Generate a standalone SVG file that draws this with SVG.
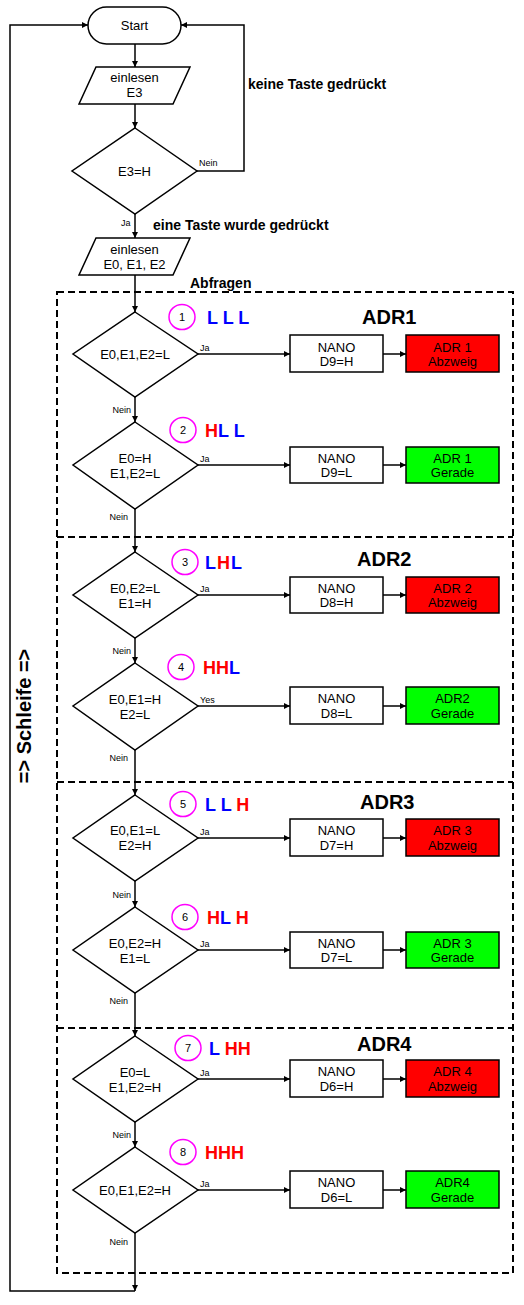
<svg xmlns="http://www.w3.org/2000/svg" width="524" height="1305" viewBox="0 0 524 1305">
<style>
text{font-family:"Liberation Sans",Arial,sans-serif;fill:#000}
.s{fill:#fff;stroke:#000;stroke-width:1.5}
.red{fill:#ff0000;stroke:#000;stroke-width:1.5}
.grn{fill:#00ff00;stroke:#000;stroke-width:1.5}
.c{fill:none;stroke:#000;stroke-width:1.5}
.dash{fill:none;stroke:#000;stroke-width:2;stroke-dasharray:7,4}
.circ{fill:#fff;stroke:#ff00ff;stroke-width:1.5}
.t{font-size:13px;text-anchor:middle}
.sm{font-size:9px}
.b{font-size:14px;font-weight:bold}
.adr{font-size:20px;font-weight:bold}
.lv{font-size:18px;font-weight:bold}
.n{font-size:11px;text-anchor:middle}
.B{fill:#0000ff}.R{fill:#ff0000}
</style>
<defs>
<marker id="a" markerWidth="6" markerHeight="6" refX="6" refY="3" orient="auto" markerUnits="userSpaceOnUse"><path d="M0,0 L6,3 L0,6 z" fill="#000"/></marker>
</defs>

<g id="frames">
<rect class="dash" x="57" y="292" width="456" height="981"/>
<line class="dash" x1="57" y1="537" x2="513" y2="537"/>
<line class="dash" x1="57" y1="782" x2="513" y2="782"/>
<line class="dash" x1="57" y1="1028" x2="513" y2="1028"/>
</g>

<g id="connectors">
<line class="c" x1="135" y1="44" x2="135" y2="67" marker-end="url(#a)"/>
<line class="c" x1="135" y1="104" x2="135" y2="128" marker-end="url(#a)"/>
<polyline class="c" points="197,171 244,171 244,25 181,25" marker-end="url(#a)"/>
<line class="c" x1="135" y1="214" x2="135" y2="238" marker-end="url(#a)"/>
<line class="c" x1="135" y1="275" x2="135" y2="312" marker-end="url(#a)"/>
<line class="c" x1="135" y1="397" x2="135" y2="422" marker-end="url(#a)"/>
<line class="c" x1="135" y1="509" x2="135" y2="552" marker-end="url(#a)"/>
<line class="c" x1="135" y1="638" x2="135" y2="663" marker-end="url(#a)"/>
<line class="c" x1="135" y1="750" x2="135" y2="795" marker-end="url(#a)"/>
<line class="c" x1="135" y1="881" x2="135" y2="907" marker-end="url(#a)"/>
<line class="c" x1="135" y1="993" x2="135" y2="1036" marker-end="url(#a)"/>
<line class="c" x1="135" y1="1122" x2="135" y2="1147" marker-end="url(#a)"/>
<line class="c" x1="135" y1="1233" x2="135" y2="1291" marker-end="url(#a)"/>
<polyline class="c" points="135,1291 10,1291 10,25 88,25" marker-end="url(#a)"/>
<line class="c" x1="198" y1="354" x2="290" y2="354" marker-end="url(#a)"/>
<line class="c" x1="383" y1="354" x2="406" y2="354" marker-end="url(#a)"/>
<line class="c" x1="198" y1="465" x2="290" y2="465" marker-end="url(#a)"/>
<line class="c" x1="383" y1="465" x2="406" y2="465" marker-end="url(#a)"/>
<line class="c" x1="198" y1="595" x2="290" y2="595" marker-end="url(#a)"/>
<line class="c" x1="383" y1="595" x2="406" y2="595" marker-end="url(#a)"/>
<line class="c" x1="198" y1="706" x2="290" y2="706" marker-end="url(#a)"/>
<line class="c" x1="383" y1="706" x2="406" y2="706" marker-end="url(#a)"/>
<line class="c" x1="198" y1="838" x2="290" y2="838" marker-end="url(#a)"/>
<line class="c" x1="383" y1="838" x2="406" y2="838" marker-end="url(#a)"/>
<line class="c" x1="198" y1="950" x2="290" y2="950" marker-end="url(#a)"/>
<line class="c" x1="383" y1="950" x2="406" y2="950" marker-end="url(#a)"/>
<line class="c" x1="198" y1="1079" x2="290" y2="1079" marker-end="url(#a)"/>
<line class="c" x1="383" y1="1079" x2="406" y2="1079" marker-end="url(#a)"/>
<line class="c" x1="198" y1="1190" x2="290" y2="1190" marker-end="url(#a)"/>
<line class="c" x1="383" y1="1190" x2="406" y2="1190" marker-end="url(#a)"/>
</g>

<g id="labels">
<text class="sm" x="199" y="166">Nein</text>
<text class="sm" x="121" y="226">Ja</text>
<text class="b" x="248" y="89">keine Taste gedrückt</text>
<text class="b" x="153" y="230">eine Taste wurde gedrückt</text>
<text class="b" x="190" y="288">Abfragen</text>
<text x="31" y="716" transform="rotate(-90 31 716)" style="font-size:20px;font-weight:bold;text-anchor:middle">=&gt; Schleife =&gt;</text>
<text class="sm" x="200" y="351">Ja</text>
<text class="sm" x="200" y="462">Ja</text>
<text class="sm" x="200" y="592">Ja</text>
<text class="sm" x="200" y="703">Yes</text>
<text class="sm" x="200" y="835">Ja</text>
<text class="sm" x="200" y="947">Ja</text>
<text class="sm" x="200" y="1076">Ja</text>
<text class="sm" x="200" y="1187">Ja</text>
<text class="sm" x="131" y="413" text-anchor="end">Nein</text>
<text class="sm" x="128" y="520" text-anchor="end">Nein</text>
<text class="sm" x="131" y="654" text-anchor="end">Nein</text>
<text class="sm" x="128" y="761" text-anchor="end">Nein</text>
<text class="sm" x="131" y="898" text-anchor="end">Nein</text>
<text class="sm" x="128" y="1004" text-anchor="end">Nein</text>
<text class="sm" x="131" y="1138" text-anchor="end">Nein</text>
<text class="sm" x="128" y="1245" text-anchor="end">Nein</text>
<text class="adr" x="362" y="324">ADR1</text>
<text class="adr" x="357" y="566">ADR2</text>
<text class="adr" x="360" y="809">ADR3</text>
<text class="adr" x="357" y="1051">ADR4</text>
</g>

<g id="start">
<rect class="s" x="88" y="7" width="93" height="37" rx="18.5"/>
<text class="t" x="134.5" y="30">Start</text>
</g>
<g id="read-e3">
<polygon class="s" points="96,67 190,67 173,104 79,104"/>
<text class="t" x="134.5" y="82">einlesen</text>
<text class="t" x="134.5" y="97">E3</text>
</g>
<g id="dec-e3">
<polygon class="s" points="135,128 197,171 135,214 72,171"/>
<text class="t" x="134.5" y="175.5">E3=H</text>
</g>
<g id="read-e012">
<polygon class="s" points="96,238 190,238 173,275 79,275"/>
<text class="t" x="134.5" y="254">einlesen</text>
<text class="t" x="134.5" y="269">E0, E1, E2</text>
</g>

<g id="q1">
<polygon class="s" points="135,312 198,354 135,397 73,354"/>
<text class="t" x="135" y="358.5">E0,E1,E2=L</text>
<ellipse class="circ" cx="182" cy="317" rx="13" ry="12.5"/><text class="n" x="182" y="321">1</text>
<text class="lv B" x="207" y="323.5">L L L</text>
</g>
<g id="nano1"><rect class="s" x="290" y="335" width="93" height="37"/><text class="t" x="336.5" y="351.5">NANO</text><text class="t" x="336.5" y="366">D9=H</text></g>
<g id="adr1a"><rect class="red" x="406" y="335" width="93" height="37"/><text class="t" x="452.5" y="351.5">ADR 1</text><text class="t" x="452.5" y="366">Abzweig</text></g>

<g id="q2">
<polygon class="s" points="135,422 198,465 135,509 73,465"/>
<text class="t" x="135" y="462.5">E0=H</text><text class="t" x="135" y="477.5">E1,E2=L</text>
<ellipse class="circ" cx="183" cy="430" rx="13" ry="12.5"/><text class="n" x="183" y="434">2</text>
<text class="lv" x="205" y="436.5"><tspan class="R">H</tspan><tspan class="B">L L</tspan></text>
</g>
<g id="nano2"><rect class="s" x="290" y="447" width="93" height="36"/><text class="t" x="336.5" y="462.5">NANO</text><text class="t" x="336.5" y="477">D9=L</text></g>
<g id="adr1g"><rect class="grn" x="406" y="447" width="93" height="36"/><text class="t" x="452.5" y="462.5">ADR 1</text><text class="t" x="452.5" y="477">Gerade</text></g>

<g id="q3">
<polygon class="s" points="135,552 198,595 135,638 73,595"/>
<text class="t" x="135" y="592.5">E0,E2=L</text><text class="t" x="135" y="607.5">E1=H</text>
<ellipse class="circ" cx="185" cy="562" rx="13" ry="12.5"/><text class="n" x="185" y="566">3</text>
<text class="lv" x="205" y="568.5" letter-spacing="1"><tspan class="B">L</tspan><tspan class="R">H</tspan><tspan class="B">L</tspan></text>
</g>
<g id="nano3"><rect class="s" x="290" y="577" width="93" height="36"/><text class="t" x="336.5" y="592.5">NANO</text><text class="t" x="336.5" y="607">D8=H</text></g>
<g id="adr2a"><rect class="red" x="406" y="577" width="93" height="36"/><text class="t" x="452.5" y="592.5">ADR 2</text><text class="t" x="452.5" y="607">Abzweig</text></g>

<g id="q4">
<polygon class="s" points="135,663 198,706 135,750 73,706"/>
<text class="t" x="135" y="703.5">E0,E1=H</text><text class="t" x="135" y="718.5">E2=L</text>
<ellipse class="circ" cx="181" cy="667" rx="13" ry="12.5"/><text class="n" x="181" y="671">4</text>
<text class="lv" x="203" y="673.5"><tspan class="R">HH</tspan><tspan class="B">L</tspan></text>
</g>
<g id="nano4"><rect class="s" x="290" y="687" width="93" height="37"/><text class="t" x="336.5" y="703">NANO</text><text class="t" x="336.5" y="718">D8=L</text></g>
<g id="adr2g"><rect class="grn" x="406" y="687" width="93" height="37"/><text class="t" x="452.5" y="703">ADR2</text><text class="t" x="452.5" y="718">Gerade</text></g>

<g id="q5">
<polygon class="s" points="135,795 198,838 135,881 73,838"/>
<text class="t" x="135" y="835">E0,E1=L</text><text class="t" x="135" y="850">E2=H</text>
<ellipse class="circ" cx="183" cy="804" rx="13" ry="12.5"/><text class="n" x="183" y="808">5</text>
<text class="lv" x="205" y="810.5"><tspan class="B">L L </tspan><tspan class="R">H</tspan></text>
</g>
<g id="nano5"><rect class="s" x="290" y="819" width="93" height="37"/><text class="t" x="336.5" y="835">NANO</text><text class="t" x="336.5" y="850">D7=H</text></g>
<g id="adr3a"><rect class="red" x="406" y="819" width="93" height="37"/><text class="t" x="452.5" y="835">ADR 3</text><text class="t" x="452.5" y="850">Abzweig</text></g>

<g id="q6">
<polygon class="s" points="135,907 198,950 135,993 73,950"/>
<text class="t" x="135" y="947.5">E0,E2=H</text><text class="t" x="135" y="962.5">E1=L</text>
<ellipse class="circ" cx="185" cy="917" rx="13" ry="12.5"/><text class="n" x="185" y="921">6</text>
<text class="lv" x="207" y="923.5"><tspan class="R">H</tspan><tspan class="B">L </tspan><tspan class="R">H</tspan></text>
</g>
<g id="nano6"><rect class="s" x="290" y="932" width="93" height="36"/><text class="t" x="336.5" y="947.5">NANO</text><text class="t" x="336.5" y="962">D7=L</text></g>
<g id="adr3g"><rect class="grn" x="406" y="932" width="93" height="36"/><text class="t" x="452.5" y="947.5">ADR 3</text><text class="t" x="452.5" y="962">Gerade</text></g>

<g id="q7">
<polygon class="s" points="135,1036 198,1079 135,1122 73,1079"/>
<text class="t" x="135" y="1076.5">E0=L</text><text class="t" x="135" y="1091.5">E1,E2=H</text>
<ellipse class="circ" cx="188" cy="1048" rx="13" ry="12.5"/><text class="n" x="188" y="1052">7</text>
<text class="lv" x="209" y="1054.5"><tspan class="B">L </tspan><tspan class="R">HH</tspan></text>
</g>
<g id="nano7"><rect class="s" x="290" y="1060" width="93" height="37"/><text class="t" x="336.5" y="1076">NANO</text><text class="t" x="336.5" y="1091">D6=H</text></g>
<g id="adr4a"><rect class="red" x="406" y="1060" width="93" height="37"/><text class="t" x="452.5" y="1076">ADR 4</text><text class="t" x="452.5" y="1091">Abzweig</text></g>

<g id="q8">
<polygon class="s" points="135,1147 198,1190 135,1233 73,1190"/>
<text class="t" x="135" y="1194.5">E0,E1,E2=H</text>
<ellipse class="circ" cx="183" cy="1152" rx="13" ry="12.5"/><text class="n" x="183" y="1156">8</text>
<text class="lv R" x="205" y="1158.5">HHH</text>
</g>
<g id="nano8"><rect class="s" x="290" y="1171" width="93" height="37"/><text class="t" x="336.5" y="1187">NANO</text><text class="t" x="336.5" y="1202">D6=L</text></g>
<g id="adr4g"><rect class="grn" x="406" y="1171" width="93" height="37"/><text class="t" x="452.5" y="1187">ADR4</text><text class="t" x="452.5" y="1202">Gerade</text></g>
</svg>
